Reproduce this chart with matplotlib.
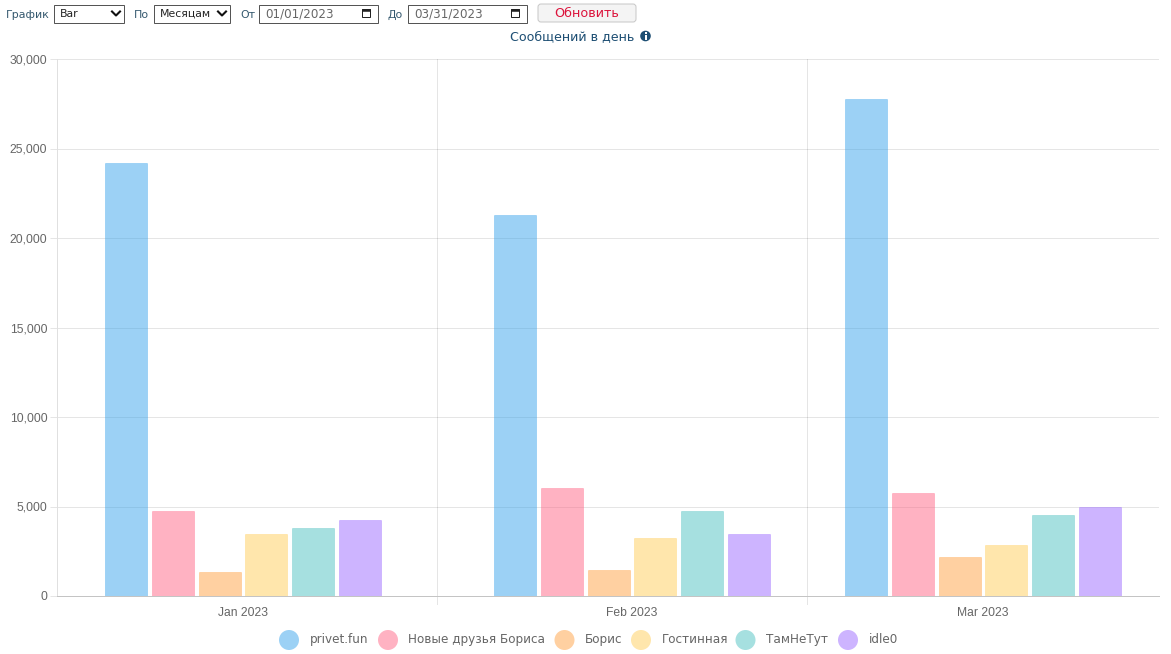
import matplotlib
matplotlib.use('Agg')
import matplotlib.pyplot as plt
from matplotlib.colors import to_rgba
from matplotlib.patches import Rectangle, FancyBboxPatch, Circle
from matplotlib.ticker import FuncFormatter
import numpy as np

plt.rcParams['font.family'] = ['Liberation Sans', 'DejaVu Sans']

months = ['Jan 2023', 'Feb 2023', 'Mar 2023']
series_names = ['privet.fun', 'Новые друзья Бориса', 'Борис', 'Гостинная', 'ТамНеТут', 'idle0']
privet = [24200, 21300, 27750]
druzya = [4750, 6050, 5750]
boris = [1350, 1450, 2200]
gostinnaya = [3450, 3250, 2850]
tamnetut = [3800, 4750, 4500]
idle0 = [4250, 3450, 5000]
y_ticks = [0, 5000, 10000, 15000, 20000, 25000, 30000]

colors = ['#36a2eb', '#ff6384', '#ff9f40', '#ffcd56', '#4bc0c0', '#9966ff']
W, H = 1171, 654
month_pos = [243, 632, 983]  # band centers, the time scale makes them uneven
band_edges = [437, 807]
slot = 46.75
bar_w = 42
thin = 0.72  # 1 px at dpi 100

fig = plt.figure(figsize=(W / 100, H / 100), dpi=100, facecolor='white')

# overlay in pixel coords for the page controls
page = fig.add_axes([0, 0, 1, 1])
page.set_xlim(0, W)
page.set_ylim(H, 0)
page.axis('off')

ax = fig.add_axes([57 / W, 1 - 596 / H, (1159 - 57) / W, (596 - 59) / H])
ax.set_xlim(57, 1159)
ax.set_ylim(0, 30000)
ax.set_axisbelow(True)

all_series = [privet, druzya, boris, gostinnaya, tamnetut, idle0]
for i, vals in enumerate(all_series):
    xs = np.array(month_pos) + (i - 2.5) * slot
    ax.bar(xs, vals, width=bar_w, color=to_rgba(colors[i], 0.49),
           edgecolor=to_rgba(colors[i], 0.3), linewidth=thin)

ax.set_yticks(y_ticks)
ax.yaxis.set_major_formatter(FuncFormatter(lambda v, p: f'{int(v):,}'))
ax.set_xticks(month_pos)
ax.set_xticklabels(months)
ax.grid(True, axis='y', color='#000000', alpha=0.1, linewidth=thin)
ax.tick_params(axis='y', length=5, width=thin, color='#e5e5e5', labelsize=8.7, labelcolor='#666666', pad=2)
ax.tick_params(axis='x', length=0, labelsize=8.7, labelcolor='#666666', pad=8)
for e in band_edges:
    ax.plot([e, e], [0, 30000], color='#e5e5e5', lw=thin, zorder=0.5)
    ax.plot([e, e], [-450, 0], color='#e5e5e5', lw=thin, clip_on=False)
ax.plot([57, 57], [0, 30000], color='#e0e0e0', lw=thin, clip_on=False)
for name in ['top', 'right', 'left']:
    ax.spines[name].set_visible(False)
ax.spines['bottom'].set_color('#c4c4c4')
ax.spines['bottom'].set_linewidth(thin)
ax.spines['bottom'].set_zorder(3)


def field(x0, x1, label, arrow=False):
    page.add_patch(Rectangle((x0, 4.5), x1 - x0, 18, fc='white', ec='#555555', lw=thin))
    page.text(x0 + 6, 14, label, fontsize=7.8, color='#222222', va='center', family='DejaVu Sans')
    if arrow:
        page.plot([x1 - 12, x1 - 8, x1 - 4], [11.5, 15.5, 11.5], color='#111111', lw=1.5)


def date_field(x0, x1, label):
    page.add_patch(Rectangle((x0, 4.5), x1 - x0, 18, fc='white', ec='#555555', lw=thin))
    page.text(x0 + 6, 14, label, fontsize=8.6, color='#666666', va='center', family='DejaVu Sans')
    page.add_patch(Rectangle((x1 - 16, 9), 8, 8, fc='white', ec='#222222', lw=thin))
    page.add_patch(Rectangle((x1 - 16, 9), 8, 2, fc='#222222', ec='#222222', lw=0.4))


label_kw = dict(fontsize=7.9, color='#34586e', va='center', family='DejaVu Sans')
page.text(6, 14.5, 'График', **label_kw)
field(54, 124, 'Bar', arrow=True)
page.text(134, 14.5, 'По', **label_kw)
field(154, 230, 'Месяцам', arrow=True)
page.text(240, 14.5, 'От', **label_kw)
date_field(259, 378, '01/01/2023')
page.text(388, 14.5, 'До', **label_kw)
date_field(408, 527, '03/31/2023')
page.add_patch(FancyBboxPatch((538, 4), 98, 18, boxstyle='round,pad=0,rounding_size=3',
                              fc='#f4f4f4', ec='#c8c8c8', lw=thin))
page.text(587, 13.5, 'Обновить', fontsize=9.2, color='#dc143c', ha='center', va='center', family='DejaVu Sans')

page.text(510, 36.5, 'Сообщений в день', fontsize=9.1, color='#1d4e73', va='center', family='DejaVu Sans')
page.add_patch(Circle((645.5, 36), 5.3, fc='#1d4e73', ec='none'))
page.add_patch(Rectangle((644.5, 35), 2, 4.5, fc='white', ec='none'))
page.add_patch(Rectangle((644.5, 32.3), 2, 1.8, fc='white', ec='none'))

# legend, placed by hand to sit like the original
legend_x = [289, 388, 564.5, 641, 745.5, 848]
text_x = [309.5, 408.5, 585, 662, 766.5, 868.5]
for i, name in enumerate(series_names):
    page.add_patch(Circle((legend_x[i], 640), 10, fc=to_rgba(colors[i], 0.49), ec='none'))
    page.text(text_x[i], 639.5, name, fontsize=8.65, color='#666666', va='center', family='DejaVu Sans')

fig.savefig('out.png', dpi=100, facecolor='white')
